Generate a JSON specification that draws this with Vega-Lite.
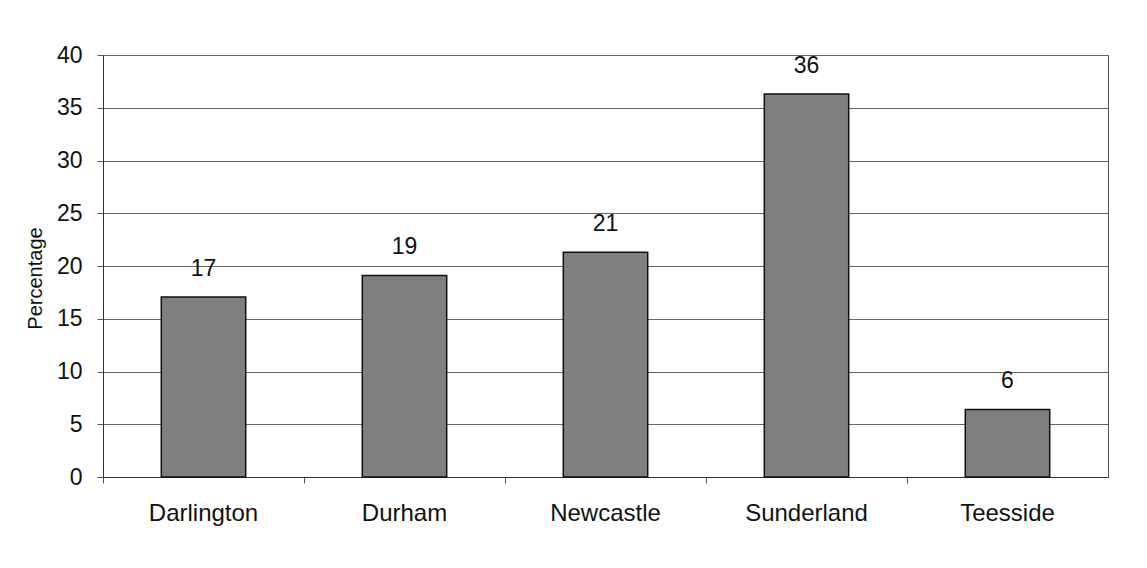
{
  "$schema": "https://vega.github.io/schema/vega-lite/v6.json",
  "autosize": "none",
  "width": 1005,
  "height": 422,
  "padding": {"left": 103, "top": 55, "right": 39, "bottom": 91},
  "background": "white",
  "config": {
    "font": "Liberation Sans",
    "view": {"stroke": "#555", "strokeWidth": 1}
  },
  "data": {
    "values": [
      {"area": "Darlington", "pct": 17.05},
      {"area": "Durham", "pct": 19.1},
      {"area": "Newcastle", "pct": 21.3},
      {"area": "Sunderland", "pct": 36.3},
      {"area": "Teesside", "pct": 6.4}
    ]
  },
  "encoding": {
    "x": {
      "field": "area",
      "type": "nominal",
      "sort": null,
      "scale": {"paddingInner": 0, "paddingOuter": 0},
      "axis": {
        "title": null,
        "labelAngle": 0,
        "labelFontSize": 24,
        "labelColor": "#111",
        "labelPadding": 18,
        "tickSize": 6,
        "tickColor": "#555",
        "bandPosition": 0,
        "domainColor": "#333",
        "grid": false
      }
    },
    "y": {
      "field": "pct",
      "type": "quantitative",
      "scale": {"domain": [0, 40]},
      "axis": {
        "title": "Percentage",
        "titleFontSize": 20,
        "titleFontWeight": "normal",
        "titleColor": "#111",
        "titleX": -68,
        "titleY": 223,
        "titleAngle": -90,
        "titleAlign": "center",
        "titleBaseline": "middle",
        "values": [0, 5, 10, 15, 20, 25, 30, 35, 40],
        "labelFontSize": 23,
        "labelColor": "#111",
        "labelPadding": 15,
        "tickSize": 6,
        "tickColor": "#555",
        "domainColor": "#333",
        "grid": true,
        "gridColor": "#666",
        "gridOpacity": 1,
        "gridWidth": 1
      }
    }
  },
  "layer": [
    {
      "mark": {"type": "bar", "width": {"band": 0.42}, "color": "#7f7f7f", "stroke": "#111", "strokeWidth": 1.5}
    },
    {
      "mark": {"type": "text", "fontSize": 23, "color": "#111", "baseline": "bottom", "dy": -16},
      "encoding": {
        "text": {"field": "pct", "type": "quantitative", "format": ".0f"}
      }
    }
  ]
}
